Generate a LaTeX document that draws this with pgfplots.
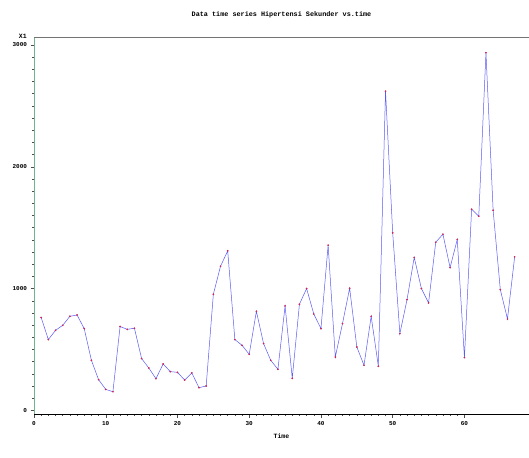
\documentclass[border=0pt]{standalone}
\usepackage{fontspec}
\setmainfont{Liberation Mono}
\usepackage{pgfplots}
\pgfplotsset{compat=1.18}
\definecolor{lineblue}{RGB}{90,90,245}
\definecolor{markred}{RGB}{200,40,90}
\definecolor{yaxisgreen}{RGB}{110,180,140}

\begin{document}
\begin{tikzpicture}[font=\fontsize{6.5}{7}\selectfont\bfseries]
\begin{axis}[
    scale only axis,
    width=495pt, height=377pt,
    xmin=0, xmax=69, ymin=-30, ymax=3065,
    axis x line*=bottom, axis y line*=left,
    x axis line style={black, -},
    y axis line style={draw=none, -},
    xtick={0,10,...,60}, ytick={0,1000,2000,3000},
    minor x tick num=9, minor y tick num=9,
    tick align=outside,
    major tick length=3.5pt, minor tick length=2pt,
    tick style={black!70, line width=0.4pt},
    tick label style={font=\fontsize{6}{7}\selectfont\bfseries},
    /pgf/number format/assume math mode=true,
    /pgf/number format/1000 sep={},
    xlabel={Time}, xlabel style={yshift=-2pt},
    title={Data time series Hipertensi Sekunder vs.time},
    title style={yshift=10pt, font=\fontsize{6.8}{8}\selectfont\bfseries},
]
\addplot[color=lineblue, line width=0.5pt, mark=*, mark size=0.6pt,
    mark options={color=markred}] coordinates {
    (1,762)(2,581)(3,657)(4,698)(5,772)(6,783)(7,671)(8,411)(9,252)(10,172)
    (11,153)(12,688)(13,665)(14,674)(15,425)(16,348)(17,260)(18,381)(19,318)(20,312)
    (21,249)(22,307)(23,186)(24,200)(25,953)(26,1183)(27,1309)(28,581)(29,534)(30,460)
    (31,813)(32,548)(33,411)(34,337)(35,857)(36,263)(37,871)(38,1000)(39,791)(40,671)
    (41,1356)(42,438)(43,712)(44,1002)(45,520)(46,370)(47,772)(48,362)(49,2620)(50,1457)
    (51,630)(52,909)(53,1255)(54,1000)(55,882)(56,1380)(57,1446)(58,1172)(59,1403)(60,433)
    (61,1651)(62,1594)(63,2936)(64,1643)(65,991)(66,750)(67,1260)
};
\end{axis}
\draw[yaxisgreen, line width=0.8pt] (current axis.south west) -- (current axis.north west);
\draw[black!55, line width=0.8pt] (current axis.north west) -- (current axis.north east);
\node[anchor=south east, inner sep=1pt] at ([xshift=-6pt, yshift=-3pt]current axis.north west) {X1};
\pgfresetboundingbox
\path[use as bounding box] (current axis.south west) ++(-34pt,-43pt) rectangle ++(529pt,457pt);
\end{tikzpicture}
\end{document}
